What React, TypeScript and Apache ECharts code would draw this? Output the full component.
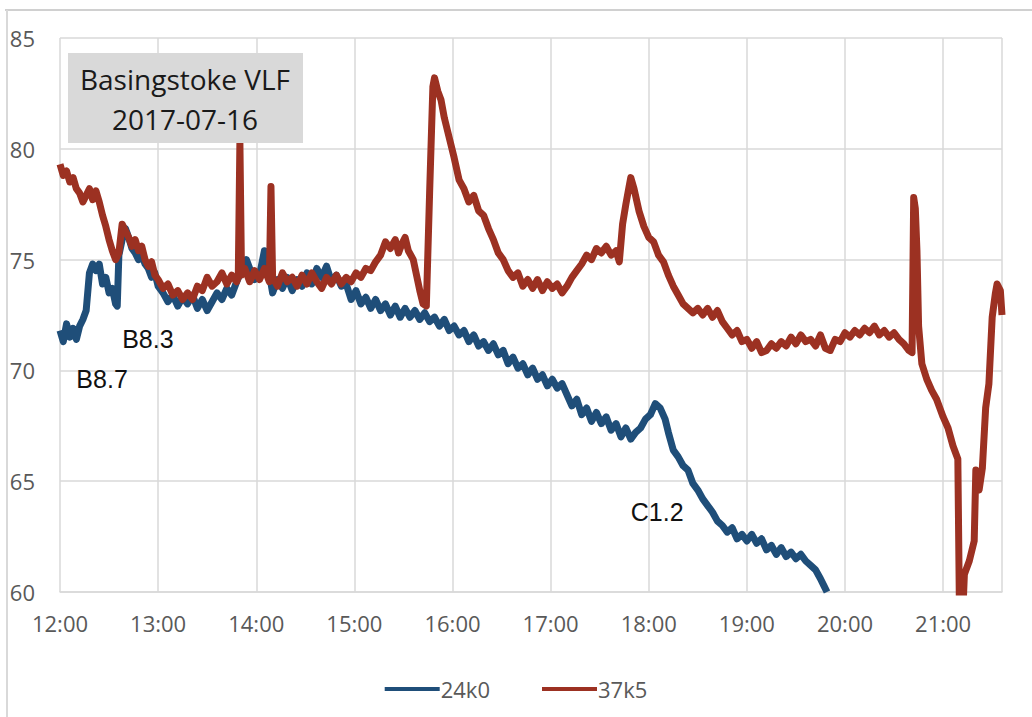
import React, { useEffect, useRef } from "react";
import * as echarts from "echarts";

// x positions are minutes after 12:00
const tickLabels = ["12:00", "13:00", "14:00", "15:00", "16:00", "17:00", "18:00", "19:00", "20:00", "21:00"];

const blueMinutes = [0, 2, 4, 6, 8, 10, 12, 14, 16, 18, 20, 22, 24, 26, 28, 30, 32, 34, 35, 36, 38, 40, 42, 44, 46, 48, 50, 52, 54, 56, 58, 60, 63, 66, 69, 72, 75, 78, 81, 84, 87, 90, 93, 96, 99, 102, 105, 108, 111, 114, 116, 119, 122, 125, 127, 130, 133, 136, 139, 142, 145, 148, 151, 154, 157, 160, 163, 166, 169, 172, 175, 178, 181, 184, 187, 190, 193, 196, 199, 202, 205, 208, 211, 214, 217, 220, 223, 226, 229, 232, 235, 238, 241, 244, 247, 250, 253, 256, 259, 262, 265, 268, 271, 274, 277, 280, 283, 286, 289, 292, 295, 298, 301, 304, 307, 310, 313, 316, 319, 322, 325, 328, 331, 334, 337, 340, 343, 346, 349, 352, 355, 358, 361, 364, 367, 370, 372, 375, 378, 381, 384, 387, 390, 393, 396, 399, 402, 405, 408, 411, 414, 417, 420, 423, 426, 429, 432, 435, 438, 441, 444, 447, 450, 453, 456, 459, 462, 465, 467, 469];
const blueValues = [71.8, 71.3, 72.1, 71.5, 71.9, 71.4, 72.0, 72.3, 72.7, 74.4, 74.8, 74.5, 74.8, 73.9, 74.2, 73.5, 73.7, 73.0, 72.9, 75.2, 75.9, 76.4, 76.0, 75.5, 75.3, 75.0, 75.2, 74.8, 74.6, 74.2, 74.4, 73.8, 73.5, 73.1, 73.4, 72.9, 73.3, 73.0, 73.4, 72.8, 73.2, 72.7, 73.1, 73.5, 73.2, 73.7, 73.4, 74.0, 74.5, 75.0, 74.6, 74.1, 74.3, 75.4, 74.8, 73.5, 74.1, 73.7, 74.2, 73.6, 74.1, 73.8, 74.4, 73.9, 74.6, 74.2, 74.7, 74.0, 74.3, 73.8, 73.9, 73.2, 73.6, 73.0, 73.3, 72.8, 73.2, 72.7, 73.0, 72.5, 72.9, 72.4, 72.8, 72.4, 72.7, 72.3, 72.6, 72.2, 72.4, 72.0, 72.3, 71.8, 72.0, 71.6, 71.8, 71.3, 71.6, 71.1, 71.3, 70.9, 71.2, 70.7, 70.9, 70.3, 70.6, 70.1, 70.3, 69.8, 70.1, 69.6, 69.8, 69.3, 69.6, 69.2, 69.4, 68.9, 68.4, 68.7, 68.0, 68.3, 67.7, 68.1, 67.6, 67.9, 67.3, 67.6, 67.0, 67.4, 66.9, 67.2, 67.4, 67.8, 68.0, 68.5, 68.3, 67.8, 67.2, 66.4, 66.1, 65.7, 65.5, 64.9, 64.6, 64.2, 63.9, 63.6, 63.2, 63.0, 62.7, 62.9, 62.4, 62.6, 62.3, 62.6, 62.2, 62.4, 61.9, 62.1, 61.7, 62.0, 61.6, 61.8, 61.5, 61.7, 61.4, 61.2, 61.0, 60.6, 60.3, 60.0];

const redMinutes = [0, 2, 4, 6, 8, 10, 12, 14, 16, 18, 20, 22, 24, 26, 28, 30, 32, 34, 36, 38, 40, 42, 44, 46, 48, 50, 52, 54, 56, 58, 60, 63, 66, 69, 72, 75, 78, 81, 84, 87, 90, 93, 96, 99, 102, 105, 108, 109, 110, 111, 113, 116, 119, 122, 125, 128, 129, 130, 133, 136, 139, 142, 145, 148, 151, 154, 157, 160, 163, 166, 169, 172, 175, 178, 181, 184, 187, 190, 193, 196, 199, 202, 205, 207, 209, 211, 213, 216, 218, 220, 222, 224, 226, 228, 229, 231, 233, 235, 238, 241, 244, 247, 250, 253, 256, 259, 262, 265, 268, 271, 274, 277, 280, 283, 286, 289, 292, 295, 298, 301, 304, 307, 310, 313, 316, 319, 322, 325, 328, 331, 334, 337, 340, 342, 344, 346, 348, 349, 351, 354, 357, 360, 363, 366, 369, 372, 375, 378, 381, 384, 387, 390, 393, 396, 399, 402, 405, 408, 411, 414, 417, 420, 423, 426, 429, 432, 435, 438, 441, 444, 447, 450, 453, 456, 459, 462, 465, 468, 471, 474, 477, 480, 483, 486, 489, 492, 495, 498, 501, 504, 507, 510, 513, 516, 519, 521, 522, 523, 524, 525, 527, 530, 533, 536, 540, 543, 546, 549, 550, 552, 553, 556, 559, 560, 562, 564, 566, 568, 570, 572, 573, 575, 576];
const redValues = [79.3, 78.8, 79.0, 78.5, 78.7, 78.2, 78.0, 77.6, 77.9, 78.2, 77.7, 78.1, 77.6, 77.0, 76.5, 75.9, 75.4, 75.0, 75.3, 76.6, 76.3, 76.0, 75.6, 75.9, 75.4, 75.6, 75.0, 74.7, 74.9, 74.3, 74.1, 73.7, 73.9, 73.4, 73.6, 73.2, 73.5, 73.2, 73.8, 73.6, 74.2, 73.8, 74.0, 74.4, 73.9, 74.3, 74.0, 74.2, 80.3, 74.3, 74.6, 74.0, 74.5, 74.1, 74.6, 74.0, 78.3, 74.2, 73.8, 74.4, 74.0, 74.2, 73.8, 74.3, 73.9, 74.4, 74.0, 73.7, 74.2, 73.9, 74.3, 73.9, 74.2, 74.0, 74.4, 74.2, 74.6, 74.5, 74.9, 75.2, 75.8, 75.5, 75.9, 75.3, 75.7, 76.0, 75.4, 75.0, 74.3, 73.6, 73.0, 72.9, 78.0, 82.8, 83.2, 82.6, 82.2, 81.4, 80.5, 79.6, 78.6, 78.2, 77.6, 77.9, 77.2, 77.0, 76.4, 75.9, 75.3, 75.0, 74.5, 74.2, 74.4, 73.8, 74.1, 73.7, 74.1, 73.6, 74.0, 73.7, 73.9, 73.5, 73.8, 74.2, 74.5, 74.8, 75.2, 75.0, 75.5, 75.3, 75.6, 75.2, 75.4, 74.9, 76.6, 77.5, 78.3, 78.7, 78.2, 77.2, 76.5, 76.0, 75.8, 75.2, 74.9, 74.3, 73.8, 73.4, 73.0, 72.8, 72.6, 72.8, 72.5, 72.8, 72.4, 72.7, 72.2, 71.9, 71.6, 71.8, 71.3, 71.4, 71.0, 71.3, 70.8, 70.9, 71.2, 71.0, 71.3, 71.1, 71.5, 71.2, 71.6, 71.3, 71.4, 71.1, 71.6, 71.0, 70.9, 71.4, 71.3, 71.7, 71.5, 71.8, 71.6, 71.9, 71.7, 72.0, 71.6, 71.8, 71.5, 71.7, 71.4, 71.2, 70.9, 70.8, 77.8, 77.3, 75.4, 72.0, 70.3, 69.6, 69.1, 68.7, 67.9, 67.4, 66.6, 66.0, 59.0, 59.0, 60.8, 61.4, 62.3, 65.5, 64.6, 65.6, 68.3, 69.4, 72.4, 73.5, 73.9, 73.6, 72.5];

const seriesNames = ["24k0", "37k5"];
const boxLines = ["Basingstoke VLF", "2017-07-16"];
const flareTexts = ["B8.3", "B8.7", "C1.2"];
const flareMinutes = [38, 10, 349];
const flareValues = [71.4, 69.6, 63.6];

export default function App() {
  const ref = useRef<HTMLDivElement>(null);
  useEffect(() => {
    if (!ref.current) return;
    const chart = echarts.init(ref.current, undefined, { renderer: "svg" });
    const blue = blueMinutes.map((m, i) => [m, blueValues[i]]);
    const red = redMinutes.map((m, i) => [m, redValues[i]]);
    const gray = "#595959";
    chart.setOption({
      animation: false,
      backgroundColor: "#ffffff",
      grid: { left: 60, right: 30, top: 38, bottom: 125 },
      legend: {
        data: seriesNames,
        top: 673,
        left: "center",
        icon: "rect",
        itemWidth: 55,
        itemHeight: 4,
        itemGap: 52,
        textStyle: { color: gray, fontSize: 22, fontFamily: "Open Sans", padding: [0, 0, 0, -4] },
      },
      xAxis: {
        type: "value",
        min: 0,
        max: 576,
        interval: 60,
        axisLine: { show: true, lineStyle: { color: "#d9d9d9", width: 1.5 } },
        axisTick: { show: false },
        splitLine: { show: true, lineStyle: { color: "#d9d9d9", width: 1.5 } },
        axisLabel: {
          color: gray,
          fontSize: 22,
          fontFamily: "Open Sans",
          margin: 20,
          showMaxLabel: false,
          formatter: (v: number) => tickLabels[Math.round(v / 60)] ?? "",
        },
      },
      yAxis: {
        type: "value",
        min: 60,
        max: 85,
        interval: 5,
        axisLine: { show: false },
        axisTick: { show: false },
        splitLine: { lineStyle: { color: "#d9d9d9", width: 1.5 } },
        axisLabel: { color: gray, fontSize: 22, fontFamily: "Open Sans", margin: 25 },
      },
      series: [
        {
          name: seriesNames[0],
          type: "line",
          data: blue,
          showSymbol: false,
          symbol: "none",
          clip: true,
          lineStyle: { color: "#1f4e79", width: 7, join: "round" },
          itemStyle: { color: "#1f4e79" },
          z: 2,
        },
        {
          name: seriesNames[1],
          type: "line",
          data: red,
          showSymbol: false,
          symbol: "none",
          clip: true,
          lineStyle: { color: "#9c3122", width: 7, join: "round" },
          itemStyle: { color: "#9c3122" },
          z: 3,
        },
      ],
    });
    const pts = flareTexts.map((_, i) => chart.convertToPixel({ gridIndex: 0 }, [flareMinutes[i], flareValues[i]]) as number[]);
    chart.setOption({
      graphic: [
        { id: "topline", type: "line", shape: { x1: 5, y1: 10, x2: 1032, y2: 10 }, style: { stroke: "#d0d0d0", lineWidth: 2 } },
        { id: "leftline", type: "line", shape: { x1: 7, y1: 10, x2: 7, y2: 717 }, style: { stroke: "#d9d9d9", lineWidth: 2 } },
        { id: "box", type: "rect", shape: { x: 68, y: 53, width: 235, height: 90 }, style: { fill: "#d9d9d9" }, z: 100 },
        {
          id: "box1",
          type: "text",
          x: 185,
          y: 79,
          z: 101,
          style: { text: boxLines[0], fill: "#1a1a1a", fontSize: 28, fontFamily: "Open Sans", align: "center", verticalAlign: "middle" },
        },
        {
          id: "box2",
          type: "text",
          x: 185,
          y: 119,
          z: 101,
          style: { text: boxLines[1], fill: "#1a1a1a", fontSize: 28, fontFamily: "Open Sans", align: "center", verticalAlign: "middle" },
        },
        ...flareTexts.map((t, i) => ({
          id: "flare" + i,
          type: "text",
          x: pts[i][0],
          y: pts[i][1],
          z: 101,
          style: { text: t, fill: "#111111", fontSize: 25, fontFamily: "Liberation Sans", align: "left", verticalAlign: "middle" },
        })),
      ],
    });
    return () => chart.dispose();
  }, []);
  return <div ref={ref} style={{ position: "fixed", left: 0, top: 0, width: 1032, height: 717, background: "#fff" }} />;
}
